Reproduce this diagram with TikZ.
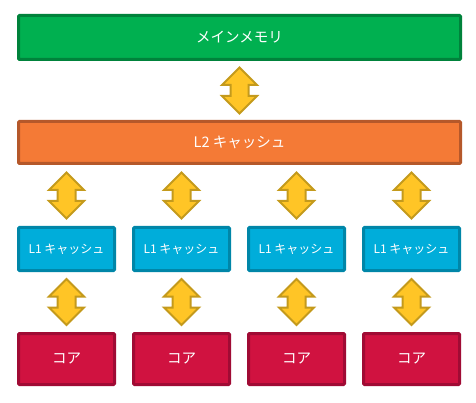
\documentclass[tikz,border=0pt]{standalone}
\usepackage{fontspec}
\newfontfamily\jp{Noto Sans CJK JP}
\usetikzlibrary{calc}
\definecolor{memfill}{HTML}{00B050}
\definecolor{memline}{HTML}{00823B}
\definecolor{l2fill}{HTML}{F47A36}
\definecolor{l2line}{HTML}{B5582A}
\definecolor{l1fill}{HTML}{00ADDA}
\definecolor{l1line}{HTML}{0086A8}
\definecolor{corefill}{HTML}{D01240}
\definecolor{coreline}{HTML}{A00B34}
\definecolor{arrfill}{HTML}{FFC526}
\definecolor{arrline}{HTML}{C49A1C}
\tikzset{
  box/.style={draw, line width=3pt, rounded corners=1pt, inner sep=0pt, text=white, font=\jp\fontsize{14.5}{16}\selectfont},
  membox/.style={box, fill=memfill, draw=memline, minimum width=442pt, minimum height=44pt},
  ltwobox/.style={box, fill=l2fill, draw=l2line, minimum width=442pt, minimum height=42pt},
  lonebox/.style={box, fill=l1fill, draw=l1line, minimum width=96pt, minimum height=43pt, font=\jp\fontsize{12}{14}\selectfont},
  corebox/.style={box, fill=corefill, draw=coreline, minimum width=96pt, minimum height=51pt},
  dbl/.pic={
    \draw[fill=arrfill, draw=arrline, line width=2pt, line join=miter]
      (0,-23) -- (17.5,-5.5) -- (9,-5.5) -- (9,5.5) -- (17.5,5.5) -- (0,23)
      -- (-17.5,5.5) -- (-9,5.5) -- (-9,-5.5) -- (-17.5,-5.5) -- cycle;
  }
}
\begin{document}
\begin{tikzpicture}[x=1pt,y=-1pt]
\useasboundingbox (0,0) rectangle (476,403);
\node[membox] (mem) at (239.5,37.5) {メインメモリ};
\node[ltwobox] (l2) at (239.5,142.5) {L2 キャッシュ};
\pic at ($(mem.south)!0.5!(l2.north)$) {dbl};
\foreach \i/\x in {1/66.5,2/181.5,3/296.5,4/411.5}{
  \node[lonebox] (l1\i) at (\x,249) {L1 キャッシュ};
  \node[corebox] (core\i) at (\x,359) {コア};
  \pic at ($(l2.south -| l1\i.north)!0.5!(l1\i.north)$) {dbl};
  \pic at ($(l1\i.south)!0.5!(core\i.north)$) {dbl};
}
\end{tikzpicture}
\end{document}
